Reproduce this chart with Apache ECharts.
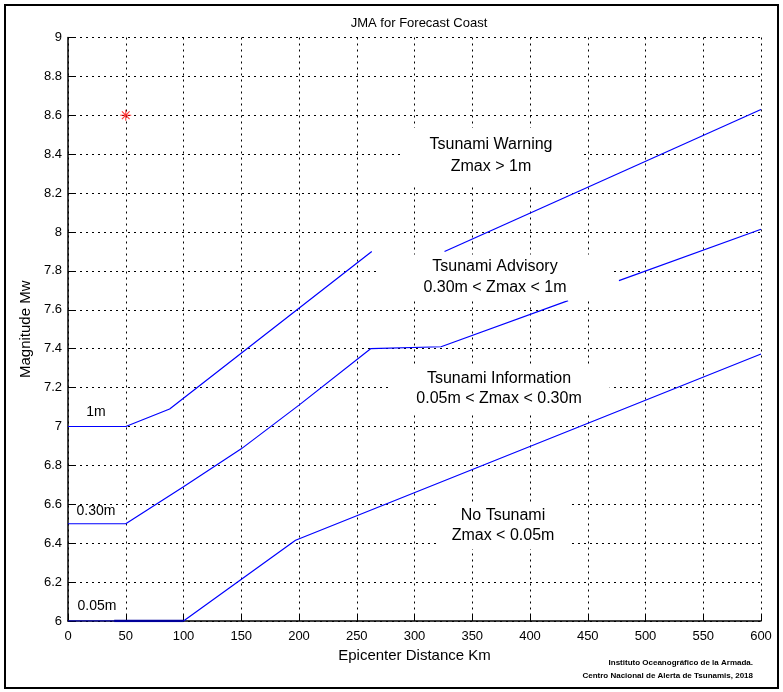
<!DOCTYPE html>
<html>
<head>
<meta charset="utf-8">
<script src="https://cdn.jsdelivr.net/npm/echarts@6/dist/echarts.min.js"></script>
<style>
html,body{margin:0;padding:0;background:#fff;}
#c{width:783px;height:692px;}
</style>
</head>
<body>
<div id="c"></div>
<script>
// ---- data ----
var xTicks = [0, 50, 100, 150, 200, 250, 300, 350, 400, 450, 500, 550, 600];
var yTicks = [6, 6.2, 6.4, 6.6, 6.8, 7, 7.2, 7.4, 7.6, 7.8, 8, 8.2, 8.4, 8.6, 8.8, 9];

// 1 m threshold (two visible pieces)
var line1mA = [[0, 7.0], [50, 7.0], [88, 7.09], [263, 7.90]];
var line1mB = [[326, 7.90], [600, 8.63]];
// 0.30 m threshold (two visible pieces)
var line030A = [[0, 6.5], [50, 6.5], [100, 6.69], [150, 6.885], [200, 7.11], [262, 7.40], [323, 7.41], [433, 7.647]];
var line030B = [[477, 7.75], [600, 8.014]];
// 0.05 m threshold
var line005 = [[0, 6.0], [100, 6.0], [197, 6.415], [600, 7.373]];
var line005Bold = [[40, 6.0], [100, 6.0]];
// event
var eventPoint = [[50, 8.6]];

var chart = echarts.init(document.getElementById('c'), null, {renderer: 'canvas'});
var FONT = '"Liberation Sans", Arial, Helvetica, sans-serif';

function seg(data, color, width) {
  return {
    type: 'line', data: data, showSymbol: false, symbol: 'none',
    lineStyle: {color: color, width: width}, animation: false, z: 3
  };
}

var asterisk = 'path://M-0.09,-1L0.09,-1L0.09,1L-0.09,1Z M-1,-0.09L1,-0.09L1,0.09L-1,0.09Z ' +
  'M-0.63,-0.77L0.77,0.63L0.63,0.77L-0.77,-0.63Z M0.77,-0.63L-0.63,0.77L-0.77,0.63L0.63,-0.77Z';

var gridLine = {show: true, lineStyle: {color: '#000', width: 1, type: [2, 4], opacity: 1}};

var option = {
  backgroundColor: '#fff',
  animation: false,
  title: {
    text: 'JMA for Forecast Coast', left: 414, top: 12, textAlign: 'center',
    textStyle: {fontFamily: FONT, fontSize: 13, fontWeight: 'normal', color: '#000'}
  },
  grid: {left: 68, right: 22, top: 37.5, bottom: 71, containLabel: false, outerBoundsMode: 'none'},
  xAxis: {
    type: 'value', min: 0, max: 600, interval: 50,
    name: 'Epicenter Distance Km', nameLocation: 'middle', nameGap: 26,
    nameTextStyle: {fontFamily: FONT, fontSize: 15, color: '#000'},
    axisLine: {show: true, lineStyle: {color: '#000', width: 1.5}},
    axisTick: {show: true, inside: true, length: 7, lineStyle: {color: '#000', width: 1}},
    axisLabel: {fontFamily: FONT, fontSize: 13, color: '#000', margin: 9,
      formatter: function (v) { return xTicks.indexOf(v) >= 0 ? String(v) : ''; }},
    splitLine: gridLine
  },
  yAxis: {
    type: 'value', min: 6, max: 9, interval: 0.2,
    name: 'Magnitude Mw', nameLocation: 'middle', nameGap: 35, nameRotate: 90,
    nameTextStyle: {fontFamily: FONT, fontSize: 15, color: '#000'},
    axisLine: {show: true, lineStyle: {color: '#000', width: 1.5}},
    axisTick: {show: true, inside: true, length: 7, lineStyle: {color: '#000', width: 1}},
    axisLabel: {fontFamily: FONT, fontSize: 13, color: '#000', margin: 6,
      formatter: function (v) {
        var r = Math.round(v * 10) / 10;
        return yTicks.indexOf(r) >= 0 ? String(r) : '';
      }},
    splitLine: gridLine
  },
  series: [
    seg(line1mA, '#0000ff', 1.2),
    seg(line1mB, '#0000ff', 1.2),
    seg(line030A, '#0000ff', 1.2),
    seg(line030B, '#0000ff', 1.2),
    seg(line005, '#0000ff', 1.2),
    seg(line005Bold, '#00009a', 2.5),
    {
      type: 'scatter', data: eventPoint, symbol: asterisk, symbolSize: 11,
      itemStyle: {color: '#ff0000'}, z: 4, animation: false
    }
  ],
  graphic: [
    {type: 'rect', shape: {x: 5, y: 5, width: 773, height: 683},
     style: {fill: 'none', stroke: '#000', lineWidth: 2}, z: 100, silent: true},
    {type: 'text', x: 491, y: 156, z: 50, style: {
      text: 'Tsunami Warning\nZmax > 1m', fill: '#000', font: '16px ' + FONT,
      align: 'center', verticalAlign: 'middle', lineHeight: 22,
      backgroundColor: '#fff', padding: [6, 28]}},
    {type: 'text', x: 495, y: 277.5, z: 50, style: {
      text: 'Tsunami Advisory\n0.30m < Zmax < 1m', fill: '#000', font: '16px ' + FONT,
      align: 'center', verticalAlign: 'middle', lineHeight: 21,
      backgroundColor: '#fff', padding: [2, 44]}},
    {type: 'text', x: 499, y: 389, z: 50, style: {
      text: 'Tsunami Information\n0.05m < Zmax < 0.30m', fill: '#000', font: '16px ' + FONT,
      align: 'center', verticalAlign: 'middle', lineHeight: 20,
      backgroundColor: '#fff', padding: [3, 28]}},
    {type: 'text', x: 503, y: 526, z: 50, style: {
      text: 'No Tsunami\nZmax < 0.05m', fill: '#000', font: '16px ' + FONT,
      align: 'center', verticalAlign: 'middle', lineHeight: 20,
      backgroundColor: '#fff', padding: [3, 14]}},
    {type: 'text', x: 96, y: 412, z: 50, style: {
      text: '1m', fill: '#000', font: '14px ' + FONT, align: 'center', verticalAlign: 'middle'}},
    {type: 'text', x: 96, y: 511, z: 50, style: {
      text: '0.30m', fill: '#000', font: '14px ' + FONT, align: 'center', verticalAlign: 'middle'}},
    {type: 'text', x: 97, y: 606, z: 50, style: {
      text: '0.05m', fill: '#000', font: '14px ' + FONT, align: 'center', verticalAlign: 'middle'}},
    {type: 'text', x: 753, y: 669.5, z: 50, style: {
      text: 'Instituto Oceanográfico de la Armada.\nCentro Nacional de Alerta de Tsunamis, 2018',
      fill: '#000', font: 'bold 8px ' + FONT, align: 'right', verticalAlign: 'middle', lineHeight: 13}}
  ]
};
chart.setOption(option);
</script>
</body>
</html>
